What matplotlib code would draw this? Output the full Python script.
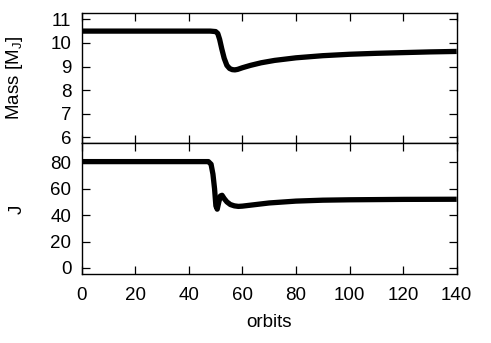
import matplotlib
matplotlib.use("Agg")
import matplotlib.pyplot as plt
import numpy as np

plt.rcParams['font.family'] = ['Liberation Sans', 'DejaVu Sans']

# Mass panel
mass_orbits = [0, 10, 20, 30, 40, 48, 50, 50.8, 51.5, 52.3, 53.2, 54.2, 55.2, 56.2, 57.2, 58.2, 60, 63, 67, 72, 80, 90, 100, 110, 120, 130, 140]
mass_values = [10.5, 10.5, 10.5, 10.5, 10.5, 10.5, 10.48, 10.4, 10.15, 9.75, 9.35, 9.05, 8.92, 8.87, 8.86, 8.88, 8.95, 9.05, 9.16, 9.26, 9.37, 9.46, 9.52, 9.56, 9.59, 9.62, 9.64]

# Angular momentum panel
j_orbits = [0, 10, 20, 30, 40, 47.3, 48.3, 49.0, 49.6, 50.1, 50.6, 51.2, 51.8, 52.4, 53.2, 54.2, 55.5, 57, 58.5, 60, 65, 70, 80, 90, 100, 120, 140]
j_values = [80.5, 80.5, 80.5, 80.5, 80.5, 80.5, 78.5, 71, 60, 47, 44.5, 50, 54.5, 55, 52.5, 50, 48, 47, 46.6, 46.8, 48, 49.2, 50.6, 51.3, 51.6, 51.9, 52.0]

x_ticks = [0, 20, 40, 60, 80, 100, 120, 140]
mass_ticks = [6, 7, 8, 9, 10, 11]
j_ticks = [0, 20, 40, 60, 80]

fig = plt.figure(figsize=(4.91, 3.43), dpi=100)
ax1 = fig.add_axes([0.1664, 0.582, 0.7637, 0.379])
ax2 = fig.add_axes([0.1664, 0.2003, 0.7637, 0.3817])

ax1.plot(mass_orbits, mass_values, color='black', lw=3.8, solid_capstyle='butt')
ax2.plot(j_orbits, j_values, color='black', lw=3.8, solid_capstyle='butt')

ax1.set_xlim(0, 140)
ax2.set_xlim(0, 140)
ax1.set_ylim(5.75, 11.25)
ax2.set_ylim(-4.8, 94.3)

fs = 13.5
for ax in (ax1, ax2):
    ax.set_xticks(x_ticks)
    ax.tick_params(direction='in', top=True, right=True, length=6, width=0.9, labelsize=fs)
    ax.tick_params(axis='y', pad=7.5)
    ax.tick_params(axis='x', pad=9)
    for s in ax.spines.values():
        s.set_linewidth(1.0)

ax1.set_yticks(mass_ticks)
ax2.set_yticks(j_ticks)
ax1.tick_params(labelbottom=False)

ax1.set_ylabel('Mass [M$_\\mathregular{J}$]', fontsize=fs)
ax2.set_ylabel('J', fontsize=fs)
ax1.yaxis.set_label_coords(-0.15, 0.5)
ax2.yaxis.set_label_coords(-0.15, 0.5)
ax2.set_xlabel('orbits', fontsize=fs, labelpad=7)

fig.savefig('out.png', dpi=100)
